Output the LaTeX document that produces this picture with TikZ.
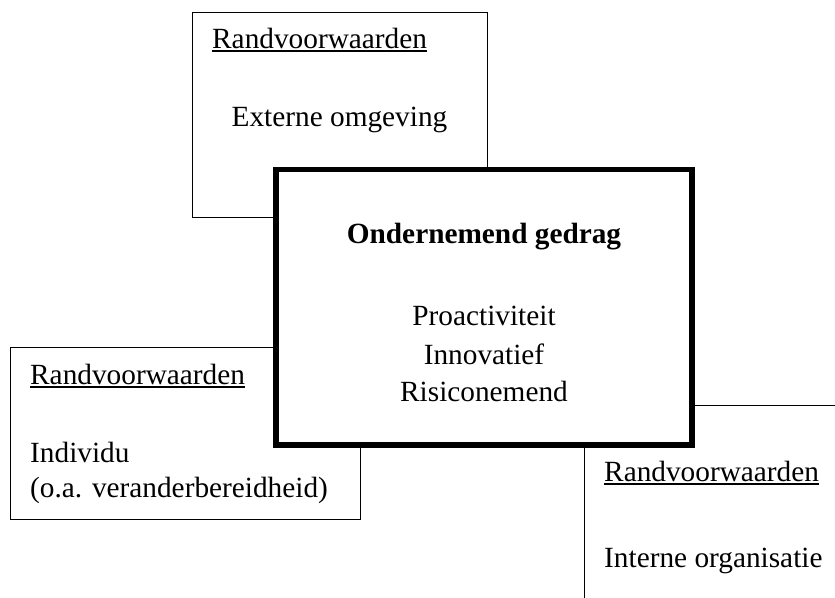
\documentclass[tikz,border=0pt]{standalone}
\usepackage{fontspec}
\setmainfont{Liberation Serif}
\begin{document}
\begin{tikzpicture}[x=1pt,y=-1pt,
  thinframe/.style={draw=black,line width=1pt,fill=white},
  mainframe/.style={draw=black,line width=5.5pt,fill=white},
  lbl/.style={inner sep=0pt,font=\fontsize{29.3}{35}\selectfont},
  heading/.style={lbl,anchor=base west},
  ulined/.style={line width=1.4pt}]
\useasboundingbox (0,0) rectangle (835,597);
\clip (0,0) rectangle (835,597);

% surrounding condition boxes
\draw[thinframe] (192.5,12) rectangle (487,217);
\draw[thinframe] (10,347) rectangle (360,519);
\draw[thinframe] (584,405) rectangle (900,660);

% central box on top
\draw[mainframe] (276,169.5) rectangle (692,445);

% top box: external environment
\node[heading] (h1) at (212,48) {Randvoorwaarden};
\draw[ulined] ([yshift=-3pt]h1.base west) -- ([yshift=-3pt]h1.base east);
\node[lbl,anchor=base] (ext) at (339.5,126) {Externe omgeving};

% central box: entrepreneurial behaviour
\node[lbl,anchor=base,font=\fontsize{29.3}{35}\selectfont\bfseries] (title) at (484,243) {Ondernemend gedrag};
\node[lbl,anchor=base] (pro) at (484,325) {Proactiviteit};
\node[lbl,anchor=base] (inn) at (484,364) {Innovatief};
\node[lbl,anchor=base] (ris) at (484,401) {Risiconemend};

% left box: individual
\node[heading] (h2) at (30,384) {Randvoorwaarden};
\draw[ulined] ([yshift=-3pt]h2.base west) -- ([yshift=-3pt]h2.base east);
\node[heading] (ind) at (30,462) {Individu};
\node[heading] (ind2) at (30,497) {(o.a. veranderbereidheid)};

% right box: internal organisation
\node[heading] (h3) at (604,481) {Randvoorwaarden};
\draw[ulined] ([yshift=-3pt]h3.base west) -- ([yshift=-3pt]h3.base east);
\node[heading] (org) at (604,567) {Interne organisatie};
\end{tikzpicture}
\end{document}
